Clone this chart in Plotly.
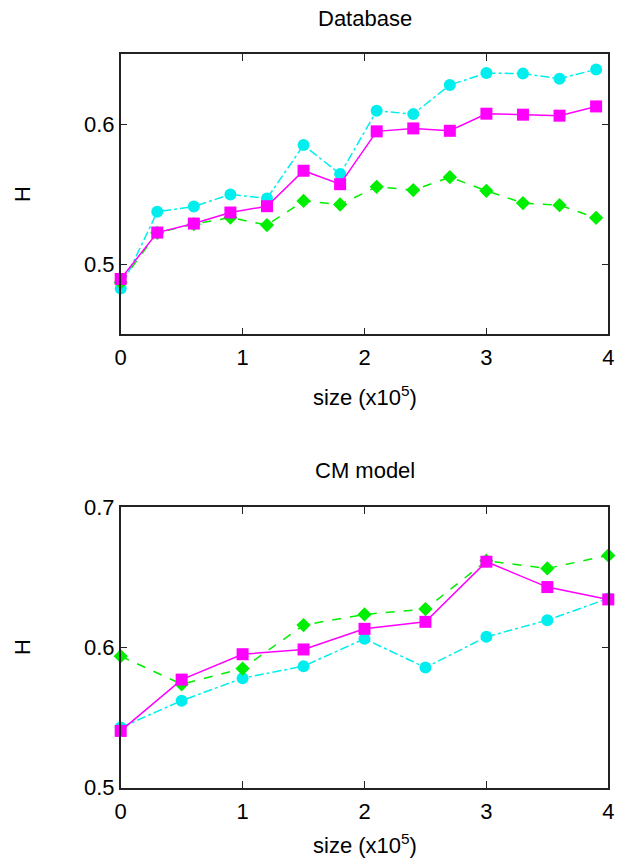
import plotly.graph_objects as go

# Database panel
db_x = [0, 0.3, 0.6, 0.9, 1.2, 1.5, 1.8, 2.1, 2.4, 2.7, 3.0, 3.3, 3.6, 3.9]
db_magenta = [0.4895, 0.5226, 0.5290, 0.5369, 0.5414, 0.5667, 0.5571, 0.5948, 0.5969, 0.5952, 0.6074, 0.6067, 0.6060, 0.6126]
db_green = [0.4869, 0.5224, 0.5286, 0.5333, 0.5279, 0.5452, 0.5426, 0.5552, 0.5529, 0.5621, 0.5524, 0.5436, 0.5421, 0.5331]
db_cyan = [0.4826, 0.5374, 0.5412, 0.5498, 0.5469, 0.5850, 0.5643, 0.6095, 0.6071, 0.6279, 0.6364, 0.6360, 0.6324, 0.6390]

# CM model panel
cm_x = [0, 0.5, 1.0, 1.5, 2.0, 2.5, 3.0, 3.5, 4.0]
cm_magenta = [0.5405, 0.5771, 0.5952, 0.5986, 0.6133, 0.6183, 0.6612, 0.6431, 0.6343]
cm_green = [0.5938, 0.5738, 0.5850, 0.6160, 0.6236, 0.6274, 0.6619, 0.6564, 0.6657]
cm_cyan = [0.5429, 0.5621, 0.5781, 0.5867, 0.6062, 0.5857, 0.6076, 0.6195, 0.6350]

MAG = "#ff00ff"
GRN = "#00ee00"
CYN = "#00eeee"
FONT = "Liberation Sans, Arial, sans-serif"
FS = 22

fig = go.Figure()

def add_series(xv, yv, color, dash, symbol, size, xa, ya):
    fig.add_trace(go.Scatter(
        x=xv, y=yv, mode="lines+markers", xaxis=xa, yaxis=ya,
        line=dict(color=color, width=1.5, dash=dash),
        marker=dict(color=color, symbol=symbol, size=size, line=dict(width=0)),
        showlegend=False, cliponaxis=False))

add_series(db_x, db_cyan, CYN, "dashdot", "circle", 12, "x", "y")
add_series(db_x, db_green, GRN, "dash", "diamond", 11, "x", "y")
add_series(db_x, db_magenta, MAG, "solid", "square", 12, "x", "y")

add_series(cm_x, cm_cyan, CYN, "dashdot", "circle", 12, "x2", "y2")
add_series(cm_x, cm_green, GRN, "dash", "diamond", 11, "x2", "y2")
add_series(cm_x, cm_magenta, MAG, "solid", "square", 12, "x2", "y2")

W, H = 624, 863
xdom = [120.7 / W, 608.3 / W]
ydom1 = [1 - 334.3 / H, 1 - 54 / H]
ydom2 = [1 - 787.7 / H, 1 - 507.3 / H]

axis_common = dict(
    showgrid=False, zeroline=False, showline=True, linecolor="#222222", linewidth=1.5,
    mirror="ticks", ticks="inside", ticklen=7, tickwidth=1, tickcolor="#222222",
    tickfont=dict(family=FONT, size=FS, color="black"),
)

fig.update_layout(
    width=W, height=H,
    margin=dict(l=0, r=0, t=0, b=0, autoexpand=False),
    paper_bgcolor="white", plot_bgcolor="white",
    xaxis=dict(domain=xdom, range=[0, 4], dtick=1, tick0=0, anchor="y", ticklabelstandoff=3, **axis_common),
    yaxis=dict(domain=ydom1, range=[0.45, 0.65], dtick=0.1, tick0=0.5, tickformat=".1f", anchor="x", **axis_common),
    xaxis2=dict(domain=xdom, range=[0, 4], dtick=1, tick0=0, anchor="y2", ticklabelstandoff=3, **axis_common),
    yaxis2=dict(domain=ydom2, range=[0.5, 0.7], dtick=0.1, tick0=0.5, tickformat=".1f", anchor="x2", **axis_common),
)

def ann(text, x, y, angle=0):
    fig.add_annotation(text=text, x=x / W, y=1 - y / H, xref="paper", yref="paper",
                       showarrow=False, textangle=angle, xanchor="center", yanchor="middle",
                       font=dict(family=FONT, size=FS, color="black"))

mid = (120.7 + 608.3) / 2
ann("Database", mid, 18)
ann("size (x10<sup>5</sup>)", mid, 396)
ann("H", 22, 194, -90)
ann("CM model", mid, 471)
ann("size (x10<sup>5</sup>)", mid, 844)
ann("H", 22, 647, -90)

fig.write_html("out.html", config={"displayModeBar": False},
               post_script="document.body.style.margin='0px';document.body.style.overflow='hidden';")
